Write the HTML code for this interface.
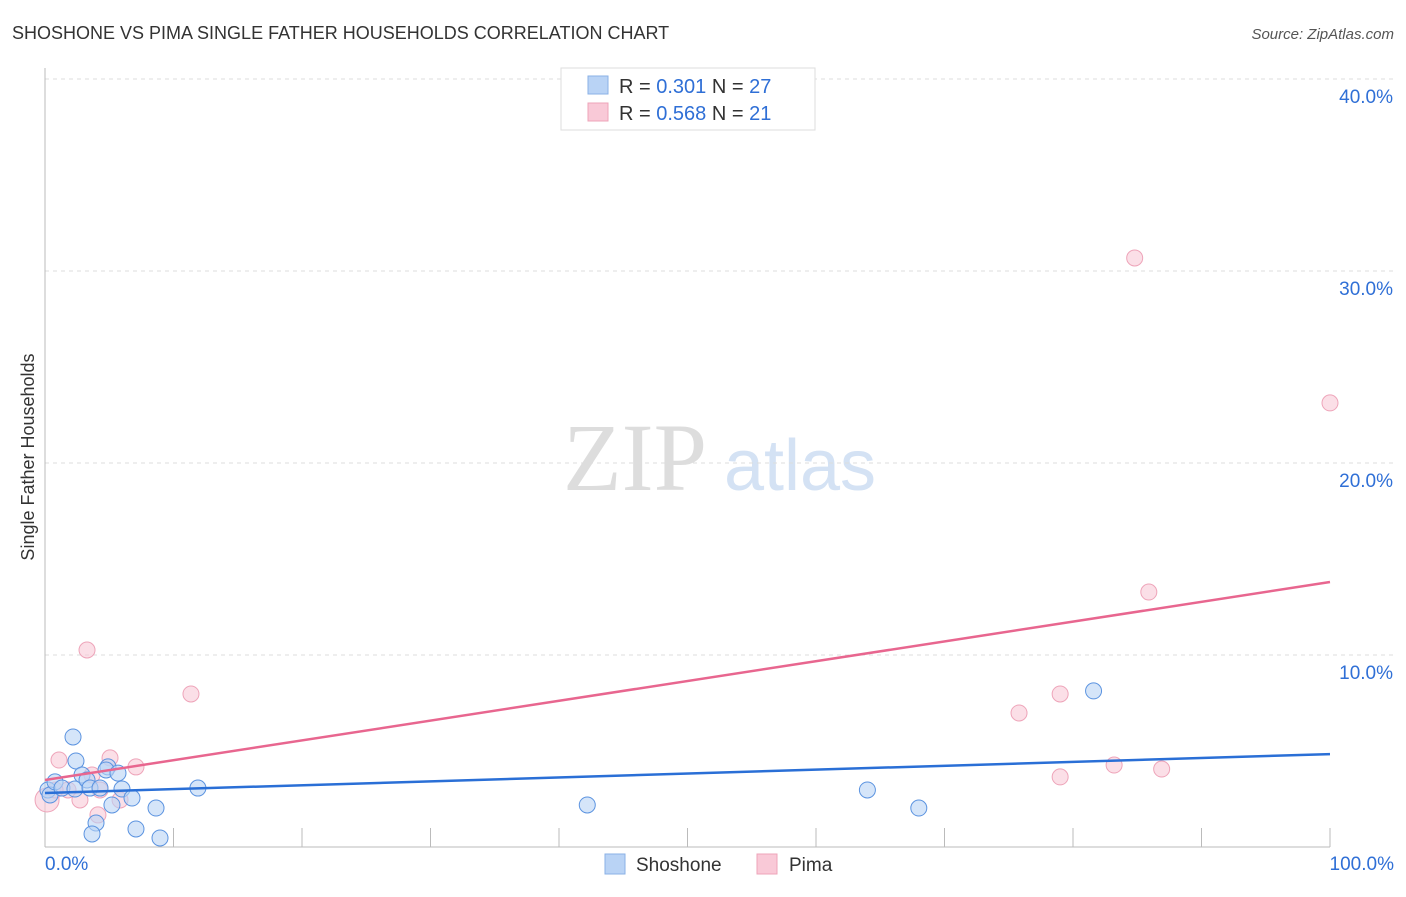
<!DOCTYPE html>
<html><head><meta charset="utf-8"><style>
body{margin:0;background:#fff;font-family:"Liberation Sans",sans-serif;}
</style></head><body>
<svg width="1406" height="892" xmlns="http://www.w3.org/2000/svg" font-family="Liberation Sans, sans-serif" id="chart">
<text x="12" y="39" font-size="18" fill="#333">SHOSHONE VS PIMA SINGLE FATHER HOUSEHOLDS CORRELATION CHART</text>
<text x="1394" y="39" font-size="15" fill="#555" font-style="italic" text-anchor="end">Source: ZipAtlas.com</text>
<text x="34" y="457" font-size="18" fill="#333" transform="rotate(-90 34 457)" text-anchor="middle">Single Father Households</text>
<g>
<text x="635" y="490" font-size="96" fill="#ddd" font-family="Liberation Serif, serif" text-anchor="middle">ZIP</text>
<text x="800" y="490" font-size="72" fill="#d4e2f4" text-anchor="middle">atlas</text>
</g>
<g id="grid"></g><g id="axes"></g><g id="marks"></g>
<g>
<rect x="561" y="68" width="254" height="62" fill="#fff" stroke="#ddd"/>
<rect x="588" y="76" width="20" height="18" fill="#b9d3f5" stroke="#8ab0e6"/>
<text x="619" y="93" font-size="20" fill="#333">R = <tspan fill="#2f6fd6">0.301</tspan>   N = <tspan fill="#2f6fd6">27</tspan></text>
<rect x="588" y="103" width="20" height="18" fill="#f9c9d7" stroke="#eea4b9"/>
<text x="619" y="120" font-size="20" fill="#333">R = <tspan fill="#2f6fd6">0.568</tspan>   N = <tspan fill="#2f6fd6">21</tspan></text>
</g>
<g>
<rect x="605" y="854" width="20" height="20" fill="#b9d3f5" stroke="#8ab0e6"/>
<text x="636" y="871" font-size="19" fill="#333">Shoshone</text>
<rect x="757" y="854" width="20" height="20" fill="#f9c9d7" stroke="#eea4b9"/>
<text x="789" y="871" font-size="19" fill="#333">Pima</text>
</g>
</svg>
<script>
const yTicks=[10,20,30,40];
const yTickLabels=["10.0%","20.0%","30.0%","40.0%"];
const xTickLabels=["0.0%","100.0%"];
const shoX=[0.23,0.39,0.78,1.32,2.18,2.41,2.33,2.88,3.27,3.5,3.97,3.66,4.28,4.9,4.75,5.68,5.21,5.99,6.77,7.08,8.64,8.95,11.9,42.2,64.0,68.0,81.6];
const shoY=[2.97,2.71,3.39,3.07,5.73,4.48,3.02,3.75,3.49,3.07,1.25,0.68,3.07,4.17,4.01,3.85,2.19,3.02,2.55,0.94,2.03,0.47,3.07,2.19,2.97,2.03,8.13];
const pimX=[0.16,1.09,1.79,2.72,3.27,3.66,4.12,5.06,5.84,7.08,11.36,75.8,79.0,79.0,83.2,84.8,85.9,86.9,100,0.78,4.28];
const pimY=[2.45,4.53,2.97,2.45,10.26,3.75,1.67,4.64,2.45,4.17,7.97,6.98,7.97,3.65,4.27,30.68,13.28,4.06,23.13,2.97,2.97];
const shoTrend=[2.81,4.84];
const pimTrend=[3.49,13.8];
const NS="http://www.w3.org/2000/svg";
const xs=v=>45+v*12.85, ys=v=>847-v*19.2;
function mk(p,t,a){const e=document.createElementNS(NS,t);for(const k in a)e.setAttribute(k,a[k]);p.appendChild(e);return e;}
const grid=document.getElementById('grid'),axes=document.getElementById('axes'),marks=document.getElementById('marks');
yTicks.forEach((v,i)=>{
 const l=mk(grid,'line',{x1:45,x2:1394,y1:ys(v),y2:ys(v),stroke:'#ddd','stroke-dasharray':'4 4'});
 
 
 const t=mk(axes,'text',{x:1393,y:ys(v)+24,'font-size':19,fill:'#2f6fd6','text-anchor':'end'});t.textContent=yTickLabels[i];
 
 
});
const ax=mk(axes,'line',{x1:45,x2:45,y1:68,y2:847,stroke:'#bbb'});


const bx=mk(axes,'line',{x1:45,x2:1330,y1:847,y2:847,stroke:'#bbb'});


for(let i=0;i<=10;i++){const tk=mk(axes,'line',{x1:xs(i*10),x2:xs(i*10),y1:828,y2:847,stroke:'#bbb'});
 
 }
[[0,'start',45],[100,'end',1394]].forEach((d,i)=>{const t=mk(axes,'text',{x:d[2],y:870,'font-size':19,fill:'#2f6fd6','text-anchor':d[1]});t.textContent=xTickLabels[i];
 
 });
pimX.forEach((x,i)=>{const c=mk(marks,'circle',{cx:xs(x),cy:ys(pimY[i]),r:i==0?12:8,fill:'#f9c9d7','fill-opacity':0.6,stroke:'#eea4b9'});
 
 });
shoX.forEach((x,i)=>{const c=mk(marks,'circle',{cx:xs(x),cy:ys(shoY[i]),r:8,fill:'#b9d3f5','fill-opacity':0.6,stroke:'#5b93e0'});
 
 });
const t1=mk(marks,'line',{x1:xs(0),x2:xs(100),y1:ys(pimTrend[0]),y2:ys(pimTrend[1]),stroke:'#e8668f','stroke-width':2.5});


const t2=mk(marks,'line',{x1:xs(0),x2:xs(100),y1:ys(shoTrend[0]),y2:ys(shoTrend[1]),stroke:'#2a6fd6','stroke-width':2.5});


</script>
</body></html>
